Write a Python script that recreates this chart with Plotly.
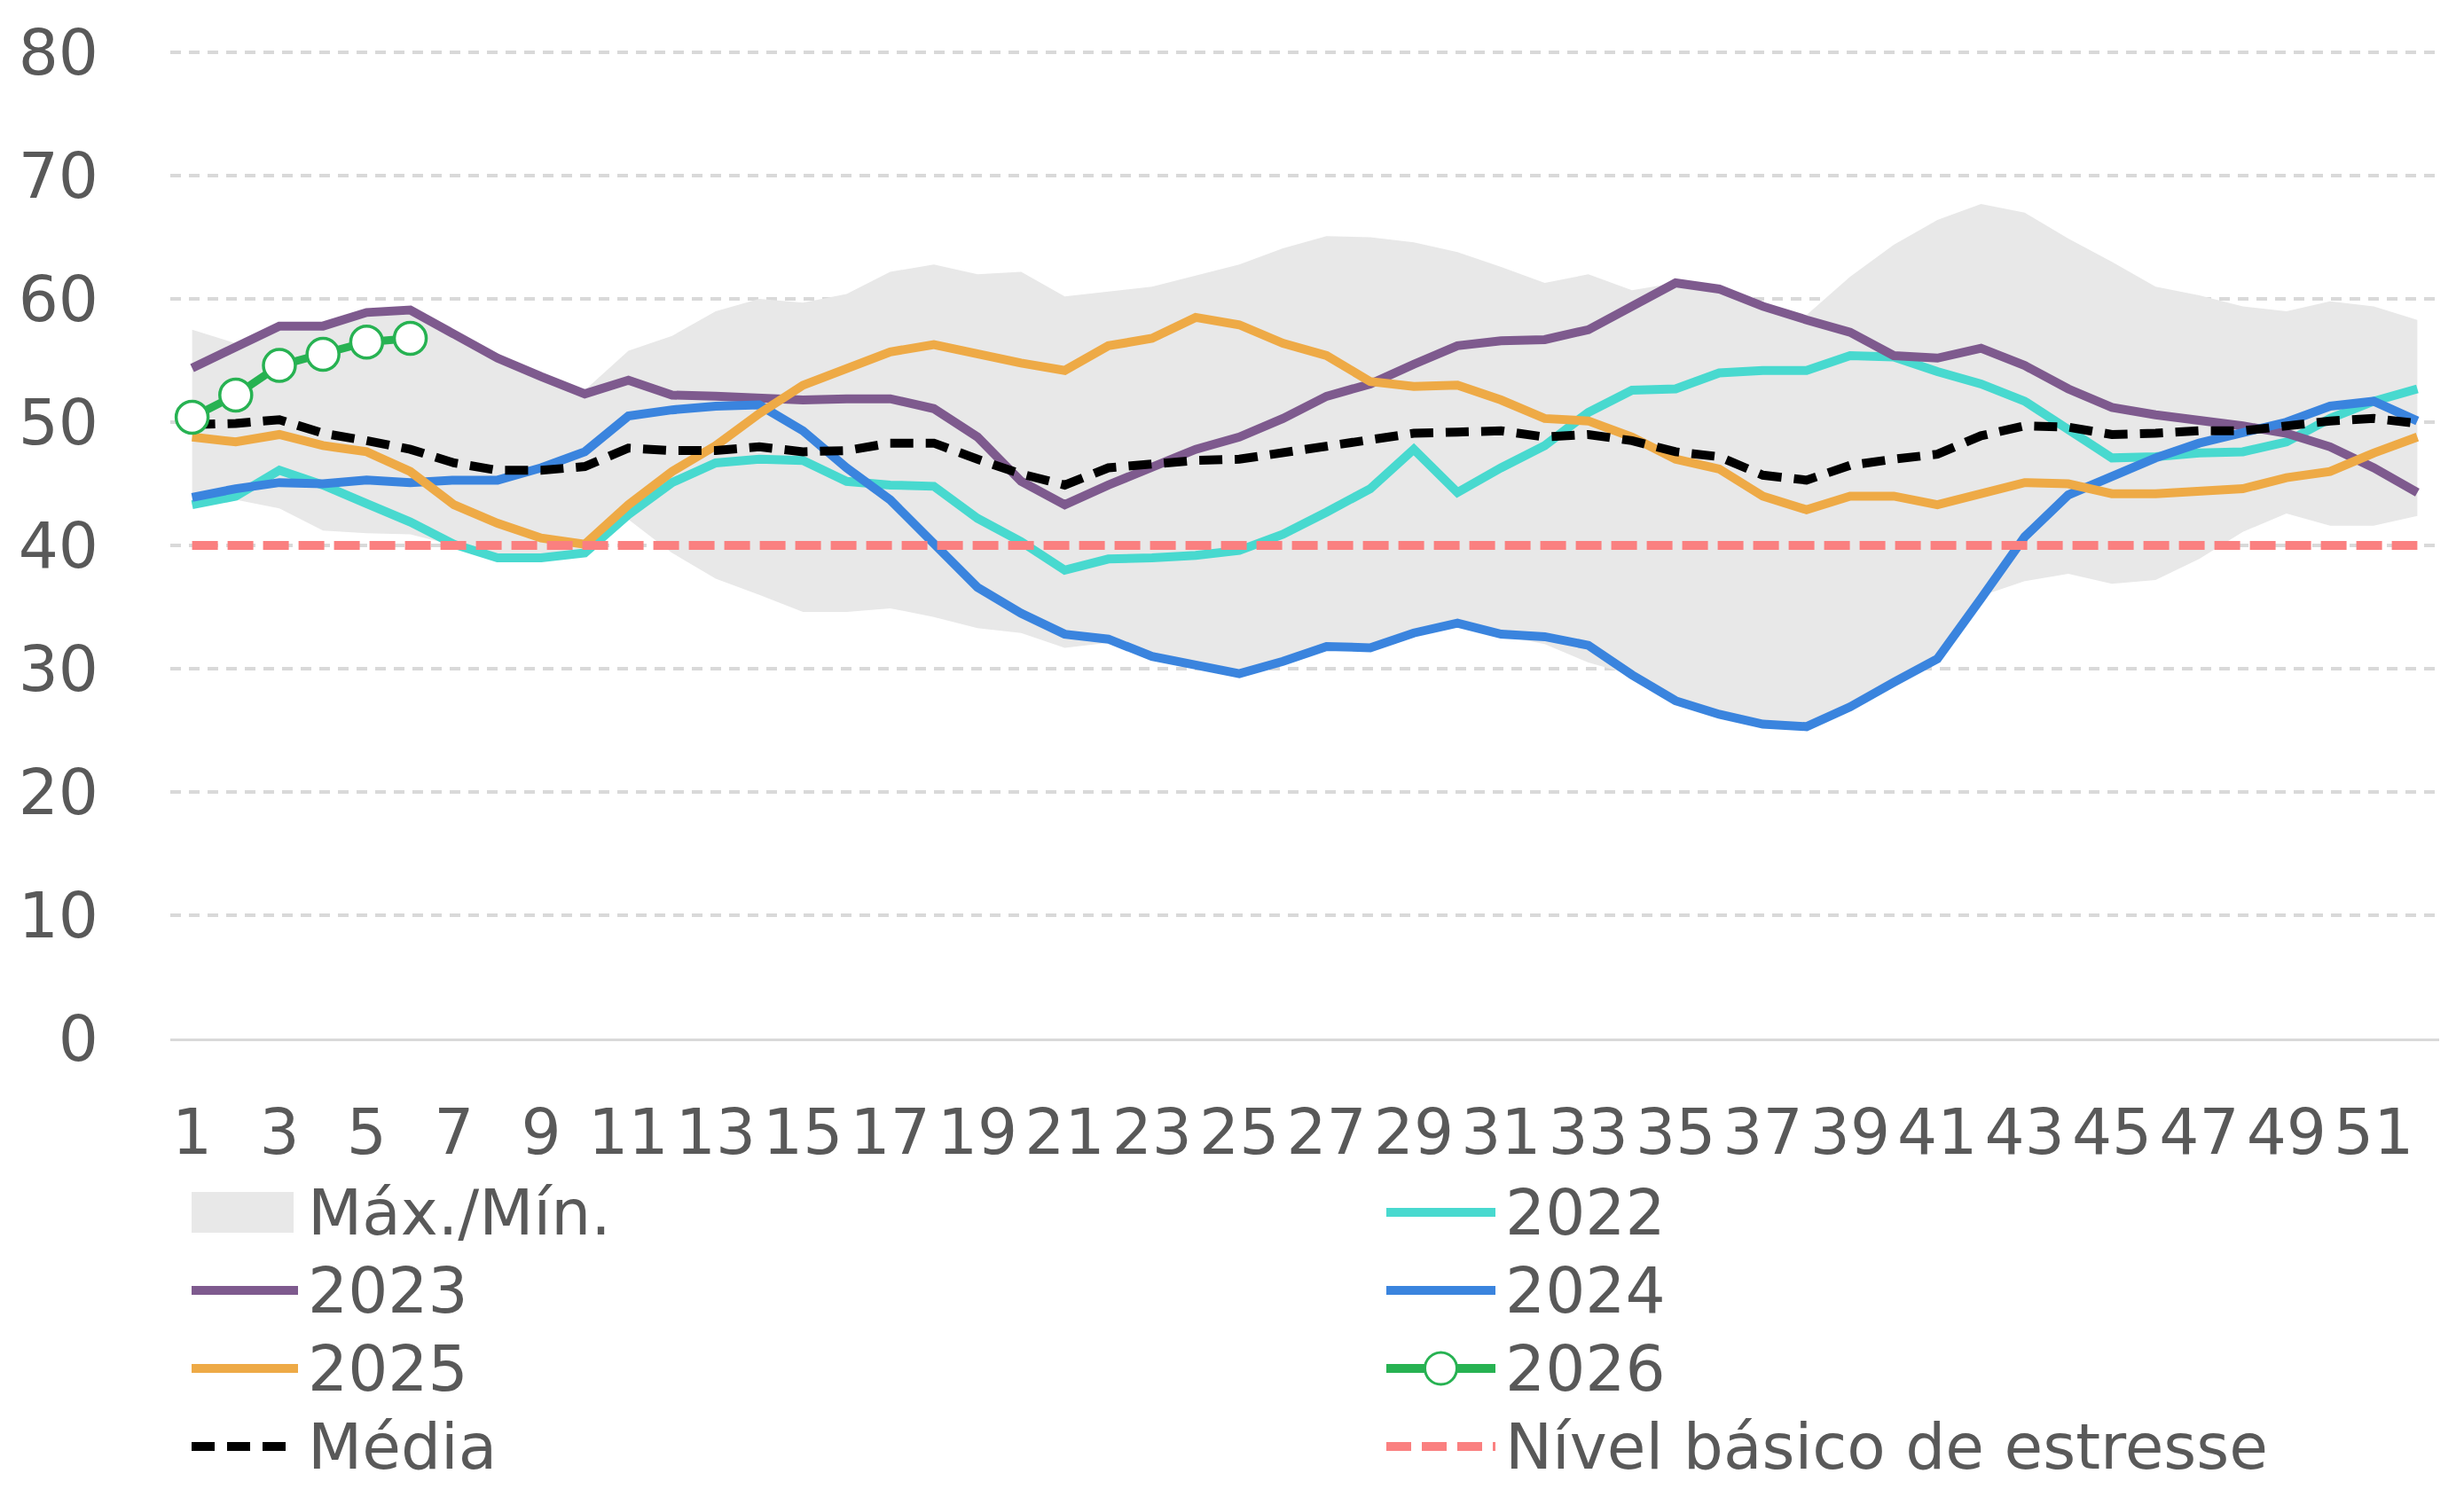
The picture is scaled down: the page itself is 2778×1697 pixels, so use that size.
import plotly.graph_objects as go

weeks = list(range(1, 53))

band_max = [57.5, 56.4, 57.8, 57.8, 58.9, 59.1, 57.2, 55.2, 53.7, 52.6,
            55.8, 57.0, 59.0, 60.0, 59.7, 60.4, 62.2, 62.8, 62.0, 62.2,
            60.2, 60.6, 61.0, 61.9, 62.8, 64.1, 65.1, 65.0, 64.6, 63.8,
            62.6, 61.3, 62.0, 60.7, 61.3, 60.8, 59.5, 58.7, 61.8, 64.4,
            66.4, 67.7, 67.0, 64.9, 63.0, 61.0, 60.3, 59.4, 59.0, 59.8, 59.4, 58.3]
band_min = [43.3, 43.7, 43.0, 41.2, 41.0, 40.9, 40.0, 39.0, 39.0, 39.4,
            42.1, 39.4, 37.3, 36.0, 34.6, 34.6, 34.9, 34.2, 33.3, 32.9,
            31.7, 32.1, 31.0, 30.3, 29.6, 30.6, 31.8, 31.7, 32.9, 33.5,
            32.7, 32.0, 30.5, 29.5, 27.4, 26.3, 25.5, 25.3, 26.9, 28.9,
            30.8, 35.9, 37.1, 37.7, 36.9, 37.2, 38.9, 41.1, 42.6, 41.6, 41.6, 42.4]

y2022 = [43.3, 44.0, 46.1, 44.9, 43.4, 41.9, 40.1, 39.0, 39.0, 39.4,
         42.5, 45.1, 46.7, 47.0, 46.9, 45.2, 44.9, 44.8, 42.2, 40.3,
         38.0, 38.9, 39.0, 39.2, 39.6, 40.9, 42.7, 44.6, 47.8, 44.3,
         46.3, 48.1, 50.8, 52.6, 52.7, 54.0, 54.2, 54.2, 55.4, 55.3,
         54.1, 53.1, 51.7, 49.4, 47.1, 47.2, 47.5, 47.6, 48.4, 50.3, 51.7, 52.7]
y2023 = [54.4, 56.1, 57.8, 57.8, 58.9, 59.1, 57.2, 55.2, 53.7, 52.3,
         53.4, 52.2, 52.1, 52.0, 51.8, 51.9, 51.9, 51.1, 48.8, 45.2,
         43.3, 44.9, 46.4, 47.8, 48.8, 50.3, 52.1, 53.1, 54.7, 56.2,
         56.6, 56.7, 57.5, 59.5, 61.3, 60.8, 59.4, 58.3, 57.3, 55.4,
         55.2, 56.0, 54.6, 52.7, 51.2, 50.6, 50.2, 49.7, 49.1, 48.0, 46.3, 44.3]
y2024 = [43.9, 44.6, 45.1, 45.0, 45.3, 45.1, 45.3, 45.3, 46.3, 47.6,
         50.5, 51.0, 51.3, 51.4, 49.3, 46.3, 43.7, 40.1, 36.6, 34.5,
         32.8, 32.4, 31.0, 30.3, 29.6, 30.6, 31.8, 31.7, 32.9, 33.7,
         32.8, 32.6, 31.9, 29.5, 27.4, 26.3, 25.5, 25.3, 26.9, 28.9,
         30.8, 35.7, 40.7, 44.1, 45.6, 47.1, 48.3, 49.1, 50.0, 51.3, 51.7, 50.1]
y2025 = [48.8, 48.4, 49.0, 48.1, 47.6, 46.0, 43.3, 41.8, 40.6, 40.1,
         43.3, 46.0, 48.1, 50.7, 53.0, 54.3, 55.7, 56.3, 55.5, 54.8,
         54.2, 56.2, 56.8, 58.5, 57.9, 56.4, 55.4, 53.3, 52.9, 53.0,
         51.8, 50.3, 50.1, 48.8, 47.0, 46.2, 44.0, 42.9, 44.0, 44.0,
         43.3, 44.2, 45.1, 45.0, 44.2, 44.2, 44.4, 44.6, 45.5, 46.0, 47.5, 48.8]
y2026 = [50.4, 52.2, 54.6, 55.5, 56.5, 56.8]
media = [49.8, 49.9, 50.2, 49.1, 48.5, 47.8, 46.7, 46.1, 46.1, 46.4,
         47.9, 47.7, 47.7, 48.0, 47.6, 47.7, 48.3, 48.3, 47.0, 45.8,
         44.9, 46.3, 46.6, 46.9, 47.0, 47.5, 48.1, 48.6, 49.1, 49.2,
         49.3, 48.8, 49.0, 48.5, 47.6, 47.2, 45.7, 45.3, 46.5, 47.0,
         47.4, 48.9, 49.7, 49.6, 49.0, 49.1, 49.3, 49.3, 49.7, 50.1, 50.3, 49.9]
stress_level = 40

x_tick_values = list(range(1, 52, 2))
x_tick_labels = [str(v) for v in x_tick_values]
y_tick_values = [0, 10, 20, 30, 40, 50, 60, 70, 80]

legend_names = ["Máx./Mín.", "2022", "2023", "2024", "2025", "2026", "Média", "Nível básico de estresse"]

# ---- style / layout constants ----
FONT = "DejaVu Sans"
TXT = "#595959"
FS = 71
C_BAND = "#E8E8E8"
C22, C23, C24, C25, C26 = "#48D9CF", "#7E5A8E", "#3A84DE", "#EEAA46", "#27B252"
C_RED, C_MEAN = "#FA8080", "#000000"
LW = 10

W, H = 2778, 1697
L, R, T, B = 184, 36, 49, 534
PW, PH = W - L - R, H - T - B


def px_x(x):
    return (x - L) / PW


def px_y(y):
    return (H - B - y) / PH


fig = go.Figure()

fig.add_trace(go.Scatter(x=weeks, y=band_min, mode="lines", line=dict(width=0, color=C_BAND),
                         showlegend=False, hoverinfo="skip"))
fig.add_trace(go.Scatter(x=weeks, y=band_max, mode="lines", line=dict(width=0, color=C_BAND),
                         fill="tonexty", fillcolor=C_BAND, name=legend_names[0], showlegend=False))

fig.add_trace(go.Scatter(x=weeks, y=y2022, mode="lines", name=legend_names[1],
                         line=dict(color=C22, width=LW), showlegend=False))
fig.add_trace(go.Scatter(x=weeks, y=y2023, mode="lines", name=legend_names[2],
                         line=dict(color=C23, width=LW), showlegend=False))
fig.add_trace(go.Scatter(x=weeks, y=y2024, mode="lines", name=legend_names[3],
                         line=dict(color=C24, width=LW), showlegend=False))
fig.add_trace(go.Scatter(x=weeks, y=y2025, mode="lines", name=legend_names[4],
                         line=dict(color=C25, width=LW), showlegend=False))
fig.add_trace(go.Scatter(x=[weeks[0], weeks[-1]], y=[stress_level, stress_level], mode="lines",
                         name=legend_names[7],
                         line=dict(color=C_RED, width=10, dash="29px,11px"), showlegend=False))
fig.add_trace(go.Scatter(x=weeks, y=media, mode="lines", name=legend_names[6],
                         line=dict(color=C_MEAN, width=10, dash="26px,14px"), showlegend=False))
fig.add_trace(go.Scatter(x=weeks[:len(y2026)], y=y2026, mode="lines+markers", name=legend_names[5],
                         line=dict(color=C26, width=9),
                         marker=dict(symbol="circle", size=36, color="#FFFFFF",
                                     line=dict(color=C26, width=3.5)),
                         showlegend=False))

# ---- manual legend (two columns, four rows) ----
col_sym = [(208, 328), (1555, 1678)]
col_txt = [337, 1687]
row_y = [1359, 1447, 1535, 1623]
entries = [
    (legend_names[0], "band", C_BAND, 0, 0),
    (legend_names[1], "line", C22, 1, 0),
    (legend_names[2], "line", C23, 0, 1),
    (legend_names[3], "line", C24, 1, 1),
    (legend_names[4], "line", C25, 0, 2),
    (legend_names[5], "marker", C26, 1, 2),
    (legend_names[6], "dash", C_MEAN, 0, 3),
    (legend_names[7], "dash", C_RED, 1, 3),
]
shapes = []
annotations = []
for name, kind, color, col, row in entries:
    x0, x1 = col_sym[col]
    yc = row_y[row]
    if kind == "band":
        shapes.append(dict(type="rect", xref="paper", yref="paper",
                           x0=px_x(x0), x1=px_x(x0 + 115), y0=px_y(yc + 23), y1=px_y(yc - 23),
                           fillcolor=color, line=dict(width=0), layer="above"))
    else:
        dash = "solid"
        if kind == "dash":
            dash = "26px,14px" if color == C_MEAN else "28px,12px"
        shapes.append(dict(type="line", xref="paper", yref="paper",
                           x0=px_x(x0), x1=px_x(x1), y0=px_y(yc), y1=px_y(yc),
                           line=dict(color=color, width=10, dash=dash),
                           layer="above"))
        if kind == "marker":
            cx = (x0 + x1) / 2
            r = 18
            shapes.append(dict(type="circle", xref="paper", yref="paper",
                               x0=px_x(cx - r), x1=px_x(cx + r), y0=px_y(yc + r), y1=px_y(yc - r),
                               fillcolor="#FFFFFF", line=dict(color=color, width=3), layer="above"))
    annotations.append(dict(text=name, xref="paper", yref="paper", x=px_x(col_txt[col]), y=px_y(yc),
                            xanchor="left", yanchor="middle", showarrow=False,
                            font=dict(family=FONT, size=FS, color=TXT)))

fig.update_layout(
    width=W, height=H,
    paper_bgcolor="white", plot_bgcolor="white",
    margin=dict(l=L, r=R, t=T, b=B, autoexpand=False),
    font=dict(family=FONT, size=FS, color=TXT),
    showlegend=False,
    shapes=shapes,
    annotations=annotations,
    xaxis=dict(range=[0.5, 52.5], tickmode="array", tickvals=x_tick_values, ticktext=x_tick_labels,
               tickangle=0, showgrid=False, zeroline=False,
               showline=True, linecolor="#D9D9D9", linewidth=3,
               ticks="", ticklabelstandoff=42, tickfont=dict(family=FONT, size=FS, color=TXT)),
    yaxis=dict(range=[0, 80.15], tickmode="array", tickvals=y_tick_values,
               showgrid=True, gridcolor="#D9D9D9", gridwidth=4, griddash="12px,9px",
               zeroline=False, showline=False, ticks="", ticklabelstandoff=80,
               tickfont=dict(family=FONT, size=FS, color=TXT)),
)

fig.write_html("out.html")
